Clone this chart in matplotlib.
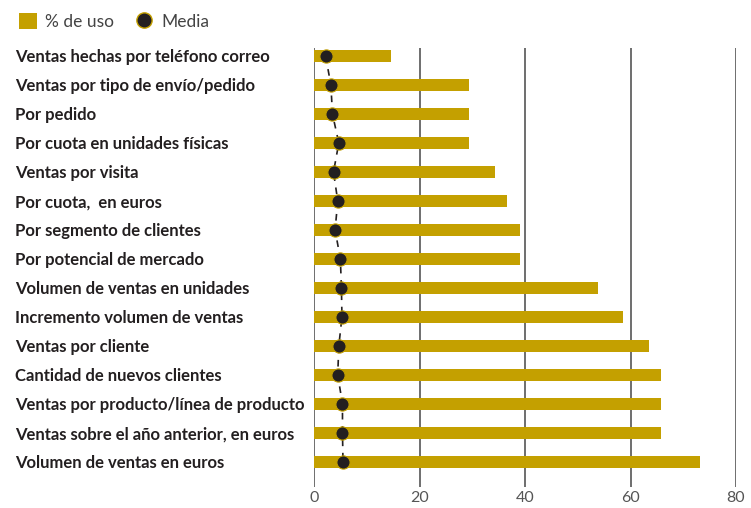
import matplotlib
matplotlib.use("Agg")
import matplotlib.pyplot as plt
from matplotlib.lines import Line2D
from matplotlib.patches import Patch
import matplotlib.transforms as mtransforms

categories = [
    "Ventas hechas por teléfono correo",
    "Ventas por tipo de envío/pedido",
    "Por pedido",
    "Por cuota en unidades físicas",
    "Ventas por visita",
    "Por cuota,  en euros",
    "Por segmento de clientes",
    "Por potencial de mercado",
    "Volumen de ventas en unidades",
    "Incremento volumen de ventas",
    "Ventas por cliente",
    "Cantidad de nuevos clientes",
    "Ventas por producto/línea de producto",
    "Ventas sobre el año anterior, en euros",
    "Volumen de ventas en euros",
]
uso = [14.6, 29.4, 29.4, 29.4, 34.3, 36.6, 39.0, 39.0, 53.8, 58.6, 63.5, 65.8, 65.8, 65.8, 73.2]
media = [2.2, 3.2, 3.5, 4.7, 3.7, 4.5, 4.0, 5.0, 5.2, 5.3, 4.7, 4.5, 5.4, 5.4, 5.5]
xticks = [0, 20, 40, 60, 80]

GOLD = "#C4A000"
DARK = "#231F20"

plt.rcParams['font.family'] = ['Lato', 'DejaVu Sans']

fig = plt.figure(figsize=(7.51, 5.08), dpi=100)
ax = fig.add_axes([314/751, 1-487/508, (736-314)/751, (487-48)/508])

y = list(range(len(categories)))
ax.barh(y, uso, height=0.42, color=GOLD, zorder=2)
ax.plot(media, y, linestyle=(0, (4, 4)), color=DARK, lw=1.2, zorder=3)
ax.plot(media, y, linestyle='none', marker='o', markersize=9.5,
        markerfacecolor=DARK, markeredgecolor=GOLD, markeredgewidth=0.8, zorder=4)

ax.set_xlim(0, 80)
ax.set_ylim(14 + 25/29, -8/29)
ax.set_xticks(xticks)
ax.set_xticklabels([str(t) for t in xticks], color="#555555", fontsize=11.5)
ax.tick_params(axis='x', length=0, pad=3)
ax.set_yticks([])
for s in ax.spines.values():
    s.set_visible(False)
for t in xticks:
    ax.axvline(t, color="#555555", lw=1.2, zorder=1)

trans = mtransforms.blended_transform_factory(fig.transFigure, ax.transData)
for yi, lab in zip(y, categories):
    ax.text(15/751, yi + 0.05, lab, transform=trans, ha='left', va='center',
            fontsize=12, fontweight='bold', color=DARK)

handles = [Patch(facecolor=GOLD, edgecolor='none'),
           Line2D([], [], linestyle='none', marker='o', markersize=11,
                  markerfacecolor=DARK, markeredgecolor=GOLD, markeredgewidth=1.0)]
fig.legend(handles, ["% de uso", "Media"], loc='upper left', bbox_to_anchor=(0.005, 1.005),
           ncol=2, frameon=False, handlelength=1.0, handleheight=1.0,
           handletextpad=0.5, columnspacing=1.2, labelcolor="#444444",
           prop={'size': 12.5})

fig.savefig("out.png", dpi=100)
